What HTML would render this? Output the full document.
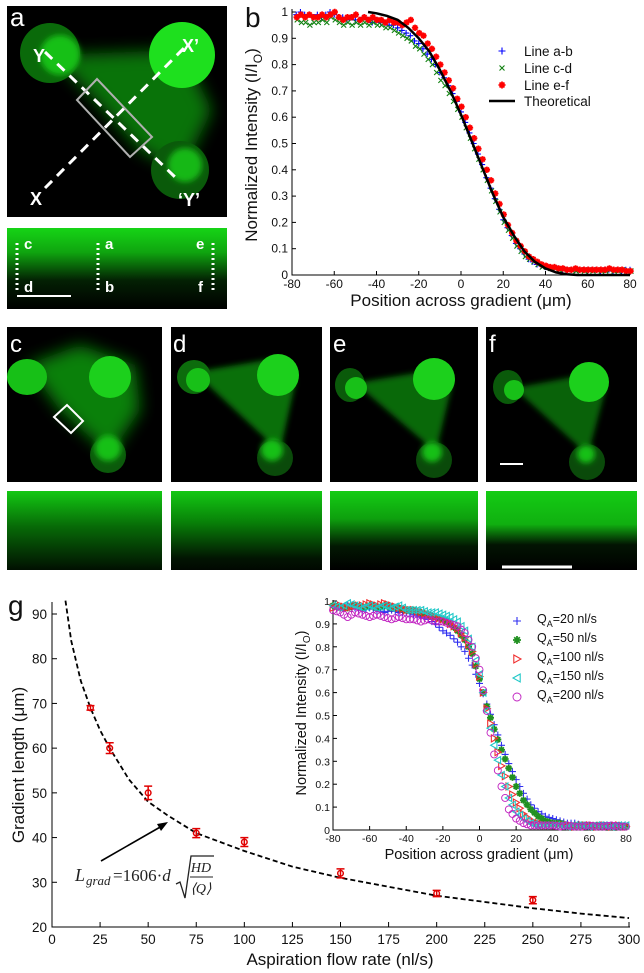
<!DOCTYPE html>
<html><head><meta charset="utf-8"><style>
html,body{margin:0;padding:0;background:#fff;}
svg{display:block;font-family:"Liberation Sans",sans-serif;}
</style></head><body>
<svg id="fig" width="644" height="973" viewBox="0 0 644 973" xmlns="http://www.w3.org/2000/svg">
<defs>
<filter id="bl8" x="-50%" y="-50%" width="200%" height="200%"><feGaussianBlur stdDeviation="8"/></filter>
<filter id="bl4" x="-50%" y="-50%" width="200%" height="200%"><feGaussianBlur stdDeviation="3"/></filter>
<linearGradient id="ga" x1="0" y1="0" x2="0" y2="1"><stop offset="0" stop-color="#16d416"/><stop offset=".3" stop-color="#0fa50f"/><stop offset=".65" stop-color="#032003"/><stop offset="1" stop-color="#000"/></linearGradient>
<linearGradient id="gc" x1="0" y1="0" x2="0" y2="1"><stop offset="0" stop-color="#13c813"/><stop offset=".45" stop-color="#076a07"/><stop offset="1" stop-color="#011001"/></linearGradient>
<linearGradient id="gd" x1="0" y1="0" x2="0" y2="1"><stop offset="0" stop-color="#13c813"/><stop offset=".4" stop-color="#088008"/><stop offset=".85" stop-color="#021502"/><stop offset="1" stop-color="#010801"/></linearGradient>
<linearGradient id="ge" x1="0" y1="0" x2="0" y2="1"><stop offset="0" stop-color="#14cc14"/><stop offset=".35" stop-color="#0ea00e"/><stop offset=".7" stop-color="#021802"/><stop offset="1" stop-color="#000"/></linearGradient>
<linearGradient id="gf" x1="0" y1="0" x2="0" y2="1"><stop offset="0" stop-color="#14cc14"/><stop offset=".42" stop-color="#10b010"/><stop offset=".68" stop-color="#021402"/><stop offset="1" stop-color="#000"/></linearGradient>
</defs>

<!-- Panel a -->
<g>
<rect x="7" y="6" width="220" height="211" fill="#000"/>
<polygon points="52,55 182,50 212,110 182,172 140,150 95,100" fill="#0b9a0b" opacity=".75" filter="url(#bl8)"/>
<circle cx="50" cy="53" r="30" fill="#0a6a0a"/>
<circle cx="60" cy="55" r="20" fill="#19c019" filter="url(#bl4)"/>
<circle cx="182" cy="55" r="33" fill="#1ee01e"/>
<circle cx="180" cy="170" r="29" fill="#0a5a0a"/>
<circle cx="185" cy="165" r="17" fill="#17b817" filter="url(#bl4)"/>
<line x1="45" y1="52" x2="175" y2="177" stroke="#fff" stroke-width="3" stroke-dasharray="10,7"/>
<line x1="45" y1="188" x2="187" y2="45" stroke="#fff" stroke-width="3" stroke-dasharray="10,7"/>
<polygon points="77,100 97,79 152,137 130,157" fill="none" stroke="#b0b0b0" stroke-width="2"/>
<text x="10" y="26" font-size="26" fill="#fff">a</text>
<text x="33" y="62" font-size="18" font-weight="bold" fill="#fff">Y</text>
<text x="182" y="52" font-size="18" font-weight="bold" fill="#fff">X’</text>
<text x="30" y="205" font-size="18" font-weight="bold" fill="#fff">X</text>
<text x="178" y="206" font-size="18" font-weight="bold" fill="#fff">‘Y’</text>
</g>
<g>
<rect x="7" y="228" width="220" height="81" fill="url(#ga)"/>
<line x1="17" y1="243" x2="17" y2="292" stroke="#fff" stroke-width="3" stroke-dasharray="2,3"/>
<line x1="98" y1="243" x2="98" y2="292" stroke="#fff" stroke-width="3" stroke-dasharray="2,3"/>
<line x1="213" y1="243" x2="213" y2="292" stroke="#fff" stroke-width="3" stroke-dasharray="2,3"/>
<text x="24" y="249" font-size="15" font-weight="bold" fill="#fff">c</text>
<text x="105" y="249" font-size="15" font-weight="bold" fill="#fff">a</text>
<text x="196" y="249" font-size="15" font-weight="bold" fill="#fff">e</text>
<text x="24" y="292" font-size="15" font-weight="bold" fill="#fff">d</text>
<text x="105" y="292" font-size="15" font-weight="bold" fill="#fff">b</text>
<text x="198" y="292" font-size="15" font-weight="bold" fill="#fff">f</text>
<line x1="17" y1="296" x2="71" y2="296" stroke="#fff" stroke-width="2"/>
</g>

<!-- Panels c-f -->
<g>
<rect x="7" y="327" width="155" height="155" fill="#000"/>
<polygon points="27,365 80,345 135,365 140,410 110,455 60,410" fill="#0ea00e" opacity=".8" filter="url(#bl8)"/>
<ellipse cx="27" cy="377" rx="20" ry="18" fill="#17c017"/>
<circle cx="110" cy="377" r="21" fill="#1cd01c"/>
<circle cx="108" cy="455" r="18" fill="#0b5a0b"/><circle cx="108" cy="448" r="13" fill="#18c018" filter="url(#bl4)"/>
<polygon points="54,417 67,405 83,421 71,433" fill="none" stroke="#fff" stroke-width="2"/>
<text x="10" y="352" font-size="24" fill="#fff">c</text>
</g>
<g>
<rect x="171" y="327" width="151" height="155" fill="#000"/>
<polygon points="194,372 278,358 296,380 280,452" fill="#0c8c0c" opacity=".8" filter="url(#bl4)"/>
<ellipse cx="194" cy="377" rx="17" ry="17" fill="#0c6c0c"/><ellipse cx="198" cy="380" rx="12" ry="12" fill="#18c018"/>
<circle cx="278" cy="375" r="21" fill="#1cd01c"/>
<circle cx="275" cy="458" r="18" fill="#0a4a0a"/><circle cx="272" cy="450" r="11" fill="#18c018" filter="url(#bl4)"/>
<text x="173" y="352" font-size="24" fill="#fff">d</text>
</g>
<g>
<rect x="330" y="327" width="148" height="155" fill="#000"/>
<polygon points="355,383 434,370 452,385 436,452" fill="#0c8c0c" opacity=".75" filter="url(#bl4)"/>
<ellipse cx="350" cy="385" rx="15" ry="17" fill="#0a5a0a"/><ellipse cx="356" cy="388" rx="11" ry="11" fill="#18c018"/>
<circle cx="434" cy="379" r="21" fill="#1cd01c"/>
<circle cx="434" cy="460" r="18" fill="#0a4a0a"/><circle cx="432" cy="452" r="10" fill="#18c018" filter="url(#bl4)"/>
<text x="333" y="352" font-size="24" fill="#fff">e</text>
</g>
<g>
<rect x="486" y="327" width="151" height="155" fill="#000"/>
<polygon points="514,388 589,374 606,388 588,455" fill="#0c8c0c" opacity=".7" filter="url(#bl4)"/>
<ellipse cx="508" cy="387" rx="15" ry="17" fill="#0a5a0a"/><ellipse cx="514" cy="390" rx="10" ry="10" fill="#18c018"/>
<circle cx="589" cy="382" r="20" fill="#1cd01c"/>
<circle cx="587" cy="462" r="18" fill="#0a4a0a"/><circle cx="586" cy="454" r="9" fill="#18c018" filter="url(#bl4)"/>
<line x1="500" y1="464" x2="523" y2="464" stroke="#fff" stroke-width="2"/>
<text x="489" y="352" font-size="24" fill="#fff">f</text>
</g>
<rect x="7" y="491" width="155" height="79" fill="url(#gc)"/>
<rect x="171" y="491" width="151" height="79" fill="url(#gd)"/>
<rect x="330" y="491" width="148" height="79" fill="url(#ge)"/>
<rect x="486" y="491" width="151" height="79" fill="url(#gf)"/>
<line x1="502" y1="567" x2="572" y2="567" stroke="#fff" stroke-width="3"/>

<!-- Formula in g -->
<g font-family="'Liberation Serif',serif" fill="#222">
<text x="75" y="881" font-size="18" font-style="italic">L</text>
<text x="86" y="885" font-size="13" font-style="italic">grad</text>
<text x="113" y="881" font-size="17">=1606·<tspan font-style="italic">d</tspan></text>
<path d="M176,884 L180,882 L185,898 L191,856 L214,856" fill="none" stroke="#222" stroke-width="1.3"/>
<text x="201" y="872" font-size="14" font-style="italic" text-anchor="middle">HD</text>
<line x1="190" y1="877" x2="213" y2="877" stroke="#222" stroke-width="1"/>
<text x="201" y="893" font-size="14" font-style="italic" text-anchor="middle">⟨Q⟩</text>
</g>
<g id="charts"></g>
</svg>
<script>
// ===== Panel b data =====
const bX = [-78,-76,-74,-72,-70,-68,-66,-64,-62,-60,-58,-56,-54,-52,-50,-48,-46,-44,-42,-40,-38,-36,-34,-32,-30,-28,-26,-24,-22,-20,-18,-16,-14,-12,-10,-8,-6,-4,-2,0,2,4,6,8,10,12,14,16,18,20,22,24,26,28,30,32,34,36,38,40,42,44,46,48,50,52,54,56,58,60,62,64,66,68,70,72,74,76,78,80];
const bLineAB = [0.99,1.0,0.99,0.99,0.98,0.99,0.98,0.99,1.0,0.99,0.98,0.98,0.97,0.98,0.97,0.97,0.98,0.97,0.96,0.97,0.96,0.96,0.95,0.95,0.94,0.93,0.92,0.91,0.89,0.88,0.86,0.84,0.82,0.80,0.77,0.75,0.72,0.69,0.66,0.62,0.58,0.54,0.50,0.46,0.42,0.37,0.33,0.29,0.25,0.21,0.18,0.15,0.12,0.10,0.08,0.06,0.05,0.04,0.035,0.03,0.03,0.025,0.025,0.02,0.02,0.02,0.02,0.02,0.02,0.02,0.02,0.02,0.015,0.02,0.02,0.015,0.02,0.015,0.02,0.02];
const bLineCD = [0.97,0.96,0.96,0.95,0.96,0.96,0.97,0.96,0.98,0.97,0.96,0.95,0.96,0.95,0.96,0.95,0.96,0.95,0.96,0.95,0.95,0.94,0.94,0.93,0.92,0.91,0.90,0.89,0.87,0.86,0.84,0.82,0.80,0.77,0.74,0.72,0.69,0.66,0.63,0.60,0.56,0.52,0.48,0.44,0.40,0.36,0.32,0.28,0.24,0.20,0.17,0.14,0.11,0.09,0.07,0.06,0.05,0.04,0.03,0.03,0.025,0.025,0.02,0.02,0.02,0.02,0.015,0.02,0.015,0.02,0.015,0.02,0.015,0.015,0.02,0.015,0.015,0.02,0.015,0.015];
const bLineEF = [0.98,0.99,0.98,0.99,0.98,0.98,0.99,0.98,0.99,1.0,0.98,0.97,0.98,0.98,0.99,0.97,0.98,0.97,0.98,0.97,0.97,0.96,0.97,0.96,0.96,0.95,0.96,0.97,0.94,0.92,0.91,0.88,0.86,0.83,0.80,0.77,0.74,0.71,0.67,0.64,0.60,0.56,0.52,0.48,0.44,0.40,0.36,0.31,0.27,0.23,0.19,0.16,0.13,0.11,0.09,0.07,0.06,0.05,0.04,0.035,0.03,0.03,0.025,0.025,0.02,0.02,0.025,0.02,0.02,0.02,0.02,0.02,0.02,0.02,0.025,0.02,0.02,0.02,0.015,0.015];
const bTheoX = [-44,-40,-35,-30,-25,-20,-15,-10,-5,0,5,10,15,20,25,30,35,40,45,50,55,60,70,80];
const bTheoY = [1,0.995,0.985,0.97,0.94,0.9,0.85,0.78,0.7,0.61,0.51,0.41,0.31,0.22,0.15,0.09,0.05,0.025,0.01,0.003,0,0,0,0];
const bXTicks = [-80,-60,-40,-20,0,20,40,60,80];
const bYTicks = [0,0.1,0.2,0.3,0.4,0.5,0.6,0.7,0.8,0.9,1];
const bYTickLabels = ["0","0.1","0.2","0.3","0.4","0.5","0.6","0.7","0.8","0.9","1"];
const bLegendLabels = ["Line a-b","Line c-d","Line e-f","Theoretical"];

// ===== Panel g data =====
const gFlow = [20,30,50,75,100,150,200,250];
const gLength = [69,60,50,41,39,32,27.5,26];
const gErr = [0.5,1.2,1.5,1,1,1,0.7,0.8];
const gFitQ = [7,10,15,20,25,30,40,50,60,75,100,125,150,175,200,225,250,275,300];
const gFitL = [93,84,75,69,64,60,53,48,45,41,37,33.5,31,29,27,25.6,24.2,23,22];
const gXTicks = [0,25,50,75,100,125,150,175,200,225,250,275,300];
const gYTicks = [20,30,40,50,60,70,80,90];

// ===== Inset data =====
const iX = [-80,-76,-72,-68,-64,-60,-56,-52,-48,-44,-40,-36,-32,-28,-24,-20,-16,-12,-8,-4,0,4,8,12,16,20,24,28,32,36,40,44,48,52,56,60,64,68,72,76,80];
const iQ20 = [0.98,0.97,0.98,0.97,0.96,0.97,0.96,0.95,0.96,0.95,0.95,0.94,0.93,0.92,0.90,0.87,0.85,0.82,0.78,0.72,0.64,0.55,0.46,0.37,0.29,0.22,0.16,0.11,0.08,0.06,0.05,0.04,0.03,0.03,0.02,0.02,0.02,0.02,0.02,0.02,0.015];
const iQ50 = [0.98,0.97,0.97,0.98,0.97,0.98,0.97,0.98,0.97,0.97,0.96,0.96,0.95,0.94,0.93,0.92,0.90,0.87,0.83,0.77,0.66,0.54,0.44,0.35,0.27,0.19,0.13,0.09,0.06,0.04,0.03,0.03,0.02,0.02,0.02,0.02,0.02,0.015,0.02,0.015,0.015];
const iQ100 = [0.97,0.98,0.97,0.98,0.98,0.99,0.98,0.99,0.98,0.97,0.96,0.96,0.95,0.94,0.93,0.92,0.90,0.88,0.84,0.78,0.67,0.53,0.40,0.28,0.19,0.12,0.07,0.04,0.03,0.02,0.02,0.02,0.02,0.015,0.02,0.02,0.015,0.02,0.015,0.02,0.015];
const iQ150 = [0.98,0.97,0.99,0.98,0.97,0.98,0.97,0.98,0.97,0.98,0.96,0.96,0.96,0.95,0.95,0.94,0.93,0.91,0.87,0.80,0.68,0.52,0.37,0.24,0.14,0.08,0.05,0.03,0.02,0.02,0.02,0.02,0.015,0.02,0.02,0.015,0.02,0.02,0.015,0.02,0.02];
const iQ200 = [0.96,0.95,0.93,0.95,0.94,0.93,0.94,0.93,0.92,0.93,0.92,0.92,0.91,0.92,0.91,0.91,0.90,0.89,0.86,0.80,0.70,0.52,0.33,0.19,0.09,0.05,0.03,0.02,0.02,0.02,0.02,0.015,0.02,0.015,0.015,0.02,0.015,0.015,0.02,0.015,0.015];
const iXTicks = [-80,-60,-40,-20,0,20,40,60,80];
const iYTicks = [0,0.1,0.2,0.3,0.4,0.5,0.6,0.7,0.8,0.9,1];
const iYTickLabels = ["0","0.1","0.2","0.3","0.4","0.5","0.6","0.7","0.8","0.9","1"];
const iLegendLabels = ["=20 nl/s","=50 nl/s","=100 nl/s","=150 nl/s","=200 nl/s"];

const NS = "http://www.w3.org/2000/svg";
const root = document.getElementById("charts");
function el(tag, attrs, parent) {
  const e = document.createElementNS(NS, tag);
  for (const k in attrs) e.setAttribute(k, attrs[k]);
  (parent || root).appendChild(e);
  return e;
}
function txt(x, y, s, size, anchor, parent) {
  const t = el("text", {x: x, y: y, "font-size": size, "text-anchor": anchor || "middle", fill: "#111"}, parent);
  t.textContent = s;
  return t;
}
function marker(kind, x, y, color, s, parent) {
  let d;
  if (kind === "plus") d = `M${x-s},${y}H${x+s}M${x},${y-s}V${y+s}`;
  else if (kind === "x") d = `M${x-s},${y-s}L${x+s},${y+s}M${x-s},${y+s}L${x+s},${y-s}`;
  else if (kind === "star") d = `M${x-s},${y}H${x+s}M${x},${y-s}V${y+s}M${x-s*.7},${y-s*.7}L${x+s*.7},${y+s*.7}M${x-s*.7},${y+s*.7}L${x+s*.7},${y-s*.7}`;
  else if (kind === "tri-r") d = `M${x-s*.8},${y-s}L${x+s},${y}L${x-s*.8},${y+s}Z`;
  else if (kind === "tri-l") d = `M${x+s*.8},${y-s}L${x-s},${y}L${x+s*.8},${y+s}Z`;
  if (kind === "circle") return el("circle", {cx: x, cy: y, r: s, fill: "none", stroke: color, "stroke-width": 0.9}, parent);
  return el("path", {d: d, fill: "none", stroke: color, "stroke-width": kind === "star" ? 1.8 : 1.1}, parent);
}

// ===== Panel b =====
const bx = v => 292 + (v + 80) / 160 * 338;
const by = v => 275 - v * 263;
const gb = el("g", {});


const bLabel = txt(245, 27, "b", 28, "start", gb);


const bAxes = el("path", {d: `M292,${by(1)-3}V275H630`, fill: "none", stroke: "#000", "stroke-width": 1}, gb);


bXTicks.forEach(v => {
  el("line", {x1: bx(v), x2: bx(v), y1: 275, y2: 271, stroke: "#000"}, gb);
  const t = txt(bx(v), 288, String(v), 12, "middle", gb);
  
  
});
bYTicks.forEach((v, i) => {
  el("line", {x1: 292, x2: 296, y1: by(v), y2: by(v), stroke: "#000"}, gb);
  const t = txt(288, by(v) + 4, bYTickLabels[i], 12, "end", gb);
  
  
});
const bXT = txt(461, 306, "Position across gradient (μm)", 17, "middle", gb);


const bYT = el("text", {transform: "translate(257,145) rotate(-90)", "font-size": 17, "text-anchor": "middle", fill: "#111"}, gb);
bYT.innerHTML = 'Normalized Intensity (I/I<tspan font-size="12" dy="5">O</tspan><tspan dy="-5">)</tspan>';


const sAB = el("g", {}, gb);


const sCD = el("g", {}, gb);


const sEF = el("g", {}, gb);


bX.forEach((v, i) => {
  marker("plus", bx(v), by(bLineAB[i]), "#0000ff", 3, sAB);
  marker("x", bx(v) + 1, by(bLineCD[i]), "#108010", 2.5, sCD);
  marker("star", bx(v) + 0.5, by(bLineEF[i]), "#ff0000", 3.2, sEF);
});
const theo = el("polyline", {points: bTheoX.map((v, i) => bx(v) + "," + by(bTheoY[i])).join(" "), fill: "none", stroke: "#000", "stroke-width": 2.5}, gb);


const bLeg = el("g", {}, gb);


const bLegY = [51, 68, 85, 101];
marker("plus", 502, bLegY[0], "#0000ff", 3.5, bLeg);
marker("x", 502, bLegY[1], "#108010", 2.5, bLeg);
marker("star", 502, bLegY[2], "#ff0000", 3.5, bLeg);
el("line", {x1: 489, x2: 515, y1: bLegY[3], y2: bLegY[3], stroke: "#000", "stroke-width": 2.5}, bLeg);
bLegendLabels.forEach((s, i) => {
  const t = txt(524, bLegY[i] + 5, s, 13.5, "start", bLeg);
  
  
});

// ===== Panel g =====
const gx = q => 52 + q / 300 * 577;
const gy = L => 927 - (L - 20) / 70 * 313;
const gg = el("g", {});


const gLabel = txt(8, 615, "g", 28, "start", gg);


const gAxes = el("path", {d: "M52,602V927H630", fill: "none", stroke: "#000", "stroke-width": 1}, gg);


gXTicks.forEach(v => {
  el("line", {x1: gx(v), x2: gx(v), y1: 927, y2: 922, stroke: "#000"}, gg);
  const t = txt(gx(v), 944, String(v), 13.5, "middle", gg);
  
  
});
gYTicks.forEach(v => {
  el("line", {x1: 52, x2: 57, y1: gy(v), y2: gy(v), stroke: "#000"}, gg);
  const t = txt(47, gy(v) + 5, String(v), 13.5, "end", gg);
  
  
});
const gXT = txt(340, 965, "Aspiration flow rate (nl/s)", 17, "middle", gg);


const gYT = txt(0, 0, "Gradient length (μm)", 17, "middle", gg);
gYT.setAttribute("transform", "translate(24,765) rotate(-90)");


const fit = el("polyline", {points: gFitQ.map((q, i) => gx(q) + "," + gy(gFitL[i])).join(" "), fill: "none", stroke: "#000", "stroke-width": 1.8, "stroke-dasharray": "5,3"}, gg);


gFlow.forEach((q, i) => {
  const g = el("g", {stroke: "#e00000", "stroke-width": 1.5, fill: "none"}, gg);
  
  
  const x = gx(q), y = gy(gLength[i]), t = gy(gLength[i] + gErr[i]), b = gy(gLength[i] - gErr[i]);
  el("path", {d: `M${x},${t}V${b}M${x-4},${t}H${x+4}M${x-4},${b}H${x+4}`}, g);
  el("circle", {cx: x, cy: y, r: 2.8}, g);
});
const arrow = el("g", {}, gg);


el("line", {x1: 101, y1: 861, x2: 162, y2: 826, stroke: "#000", "stroke-width": 1.6}, arrow);
el("path", {d: "M168,822 L157,824 L161,831 Z", fill: "#000"}, arrow);

// ===== Inset =====
const ix = v => 333 + (v + 80) / 160 * 293;
const iy = v => 830 - v * 229;
const gi = el("g", {});


const iAxes = el("path", {d: "M333,600V830H627", fill: "none", stroke: "#000", "stroke-width": 1}, gi);


iXTicks.forEach(v => {
  el("line", {x1: ix(v), x2: ix(v), y1: 830, y2: 826, stroke: "#000"}, gi);
  const t = txt(ix(v), 842, String(v), 10.5, "middle", gi);
  
  
});
iYTicks.forEach((v, i) => {
  el("line", {x1: 333, x2: 337, y1: iy(v), y2: iy(v), stroke: "#000"}, gi);
  const t = txt(330, iy(v) + 4, iYTickLabels[i], 10.5, "end", gi);
  
  
});
const iXT = txt(479, 859, "Position across gradient (μm)", 14.5, "middle", gi);


const iYT = el("text", {transform: "translate(306,713) rotate(-90)", "font-size": 14.5, "text-anchor": "middle", fill: "#111"}, gi);
iYT.innerHTML = 'Normalized Intensity (I/I<tspan font-size="10" dy="4">O</tspan><tspan dy="-4">)</tspan>';


const iSeries = [iQ20, iQ50, iQ100, iQ150, iQ200];
const iKinds = ["plus", "star", "tri-r", "tri-l", "circle"];
const iColors = ["#3030f0", "#209020", "#f03030", "#20c8c8", "#c020c0"];
const iNames = ["series-qa-20", "series-qa-50", "series-qa-100", "series-qa-150", "series-qa-200"];
iSeries.forEach((ser, k) => {
  const g = el("g", {}, gi);
  
  
  iX.forEach((v, i) => {
    marker(iKinds[k], ix(v), iy(ser[i]), iColors[k], 3.5, g);
    if (i < iX.length - 1) marker(iKinds[k], ix((v + iX[i + 1]) / 2), iy((ser[i] + ser[i + 1]) / 2), iColors[k], 3.5, g);
  });
});
const iLeg = el("g", {}, gi);


iLegendLabels.forEach((s, k) => {
  const y = 619 + k * 19;
  marker(iKinds[k], 517, y + 2, iColors[k], 4, iLeg);
  const t = el("text", {x: 537, y: y + 4, "font-size": 12.5, fill: "#111"}, iLeg);
  t.innerHTML = 'Q<tspan font-size="9" dy="4">A</tspan><tspan dy="-4">' + s + '</tspan>';
  
  
});
</script>
</body></html>
